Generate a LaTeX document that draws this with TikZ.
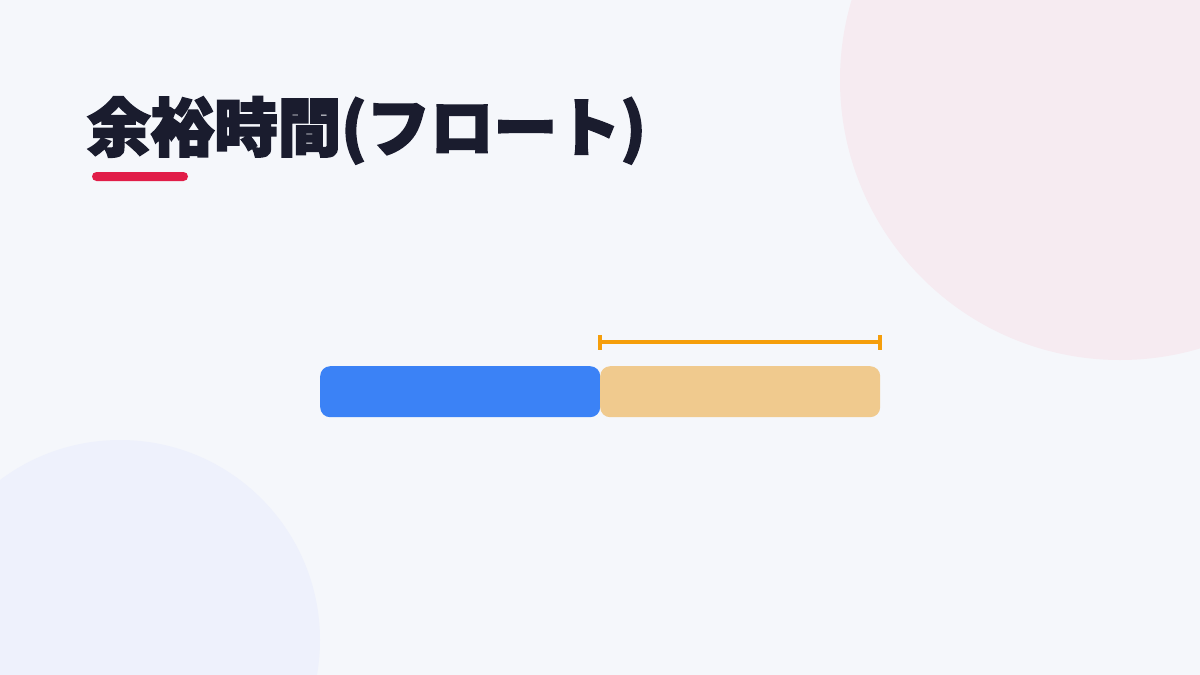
\documentclass[tikz,border=0pt]{standalone}
\usepackage{fontspec}
\newfontfamily\cjk[FakeBold=3]{Noto Sans CJK JP}
\definecolor{bgc}{HTML}{F5F7FB}
\definecolor{pinkc}{HTML}{F6EBF1}
\definecolor{bluec}{HTML}{EEF1FC}
\definecolor{titlec}{HTML}{1A1C2E}
\definecolor{redc}{HTML}{E11D48}
\definecolor{barblue}{HTML}{3B82F6}
\definecolor{barorange}{HTML}{F0CA8E}
\definecolor{brk}{HTML}{F59E0B}
\tikzset{
  bar/.style={rounded corners=10pt, inner sep=0pt, minimum height=51pt, minimum width=280pt, draw=none},
  brline/.style={draw=brk, line width=3.5pt}
}
\begin{document}
\begin{tikzpicture}[x=1pt,y=-1pt]
\fill[bgc] (0,0) rectangle (1200,675);
\useasboundingbox (0,0) rectangle (1200,675);
\fill[pinkc] (1120,80) circle[radius=280];
\fill[bluec] (120,640) circle[radius=200];
\node[anchor=base west, inner sep=0pt, text=titlec, font=\cjk\bfseries\fontsize{63.5}{70}\selectfont] (title) at (87,151) {余裕時間(フロート)};
\fill[redc, rounded corners=4.5pt] (92,172) rectangle (188,181);
\node[bar, fill=barblue, anchor=north west] (crit) at (320,366) {};
\node[bar, fill=barorange, anchor=north west] (float) at (600,366) {};
\coordinate (bl) at (600,342);
\coordinate (br) at (880,342);
\draw[brline] (bl) -- (br);
\draw[brline] ([yshift=-7.5pt]bl) -- ([yshift=7.5pt]bl);
\draw[brline] ([yshift=-7.5pt]br) -- ([yshift=7.5pt]br);
\end{tikzpicture}
\end{document}
